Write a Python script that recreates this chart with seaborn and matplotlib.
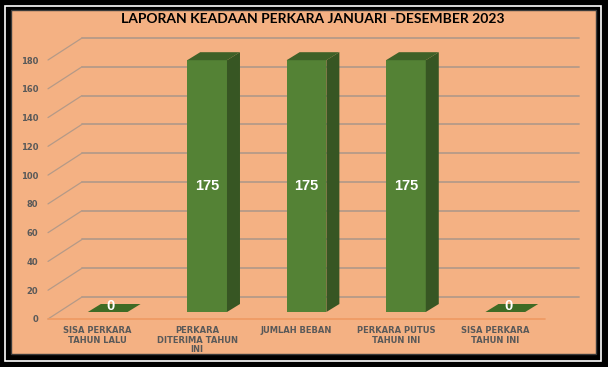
import matplotlib
matplotlib.use("Agg")
import matplotlib.pyplot as plt
import matplotlib.transforms as mtransforms
from matplotlib.patches import Rectangle, Polygon
import pandas
import seaborn

categories = [
    "SISA PERKARA\nTAHUN LALU",
    "PERKARA\nDITERIMA TAHUN\nINI",
    "JUMLAH BEBAN",
    "PERKARA PUTUS\nTAHUN INI",
    "SISA PERKARA\nTAHUN INI",
]
values = [0, 175, 175, 175, 0]
y_ticks = [0, 20, 40, 60, 80, 100, 120, 140, 160, 180]
title = "LAPORAN KEADAAN PERKARA JANUARI -DESEMBER 2023"

PEACH = "#F4B183"
GREEN = "#548235"
GREEN_SIDE = "#375623"
GREEN_TOP = "#3F6128"
GRID = "#B59A88"
TEXT = "#595959"

W, H, DPI = 608, 367, 100

seaborn.set_theme(style="white")
plt.rcParams["font.family"] = ["DejaVu Sans"]

fig = plt.figure(figsize=(W / DPI, H / DPI), dpi=DPI)
fig.patch.set_facecolor("black")

# frame: thin white line inside black border, then peach panel
fig.add_artist(Rectangle((5 / W, 6 / H), 596 / W, 355 / H, transform=fig.transFigure,
                         facecolor="none", edgecolor="white", lw=1.2, zorder=-2))
fig.add_artist(Rectangle((11 / W, 13 / H), 585 / W, 344 / H, transform=fig.transFigure,
                         facecolor=PEACH, edgecolor="#3a3a3a", lw=1.0, zorder=-1))

ax = fig.add_axes([48 / W, (H - 319) / H, 497 / W, 259 / H])
ax.set_zorder(1)
ax.set_facecolor("none")

df = pandas.DataFrame({"cat": categories, "val": values})
seaborn.barplot(data=df, x="cat", y="val", order=categories, width=0.4,
                color=GREEN, saturation=1, linewidth=0, ax=ax, zorder=3)

ax.set_xlim(-0.5, len(categories) - 0.5)
ax.set_ylim(0, 180)
for s in ax.spines.values():
    s.set_visible(False)
ax.set_xlabel("")
ax.set_ylabel("")

# pseudo 3D: back wall offset, bar plane offset
back = mtransforms.offset_copy(ax.transData, fig=fig, x=34, y=22, units="dots")
bar_tr = mtransforms.offset_copy(ax.transData, fig=fig, x=10, y=7, units="dots")
x0, x1 = ax.get_xlim()

ppx = ax.transData.transform((1, 0))[0] - ax.transData.transform((0, 0))[0]
ppy = ax.transData.transform((0, 1))[1] - ax.transData.transform((0, 0))[1]

for t in y_ticks:
    ax.plot([x0, x1], [t, t], color=GRID, lw=1.3, transform=back, zorder=0, clip_on=False)
    ax.plot([x0, x0 + 34 / ppx], [t, t + 22 / ppy], color=GRID, lw=0.9,
            zorder=0, clip_on=False)
ax.plot([x0, x1], [0, 0], color="#EE9A62", lw=1.2, zorder=1, clip_on=False)

ddx, ddy = 13 / ppx, 8 / ppy

for bar, v in zip(ax.patches, values):
    bar.set_transform(bar_tr)
    bar.set_clip_on(False)
    bx, bw, bh = bar.get_x(), bar.get_width(), bar.get_height()
    side = Polygon([(bx + bw, 0), (bx + bw + ddx, ddy), (bx + bw + ddx, bh + ddy), (bx + bw, bh)],
                   closed=True, facecolor=GREEN_SIDE, edgecolor="none", transform=bar_tr,
                   zorder=3, clip_on=False)
    top = Polygon([(bx, bh), (bx + ddx, bh + ddy), (bx + bw + ddx, bh + ddy), (bx + bw, bh)],
                  closed=True, facecolor=GREEN_TOP if bh > 0 else "#3E6B25",
                  edgecolor="none", transform=bar_tr, zorder=3, clip_on=False)
    ax.add_patch(side)
    ax.add_patch(top)
    cx = bx + bw / 2
    if bh > 0:
        ax.text(cx, bh / 2, f"{v}", transform=bar_tr, ha="center", va="center",
                color="white", fontsize=10.5, fontweight="bold", zorder=5,
                family=["Liberation Sans"])
    else:
        lbl_tr = mtransforms.offset_copy(ax.transData, fig=fig, x=13, y=13, units="dots")
        ax.text(cx, 0, f"{v}", transform=lbl_tr, ha="center", va="center",
                color="white", fontsize=10.5, fontweight="bold", zorder=5,
                family=["Liberation Sans"])

ax.set_yticks(y_ticks)
ax.set_yticklabels([str(t) for t in y_ticks])
ax.tick_params(axis="y", length=0, pad=7, labelsize=6, labelcolor=TEXT)
ax.tick_params(axis="x", length=0, pad=5, labelsize=6, labelcolor=TEXT)
for lab in ax.get_yticklabels() + ax.get_xticklabels():
    lab.set_fontweight("bold")
for lab in ax.get_xticklabels():
    lab.set_linespacing(1.1)

fig.text(313 / W, (H - 19) / H, title, ha="center", va="center", fontsize=10,
         fontweight="bold", color="black", family=["Lato", "DejaVu Sans"], zorder=3)

fig.savefig("out.png", dpi=DPI, facecolor=fig.get_facecolor())
